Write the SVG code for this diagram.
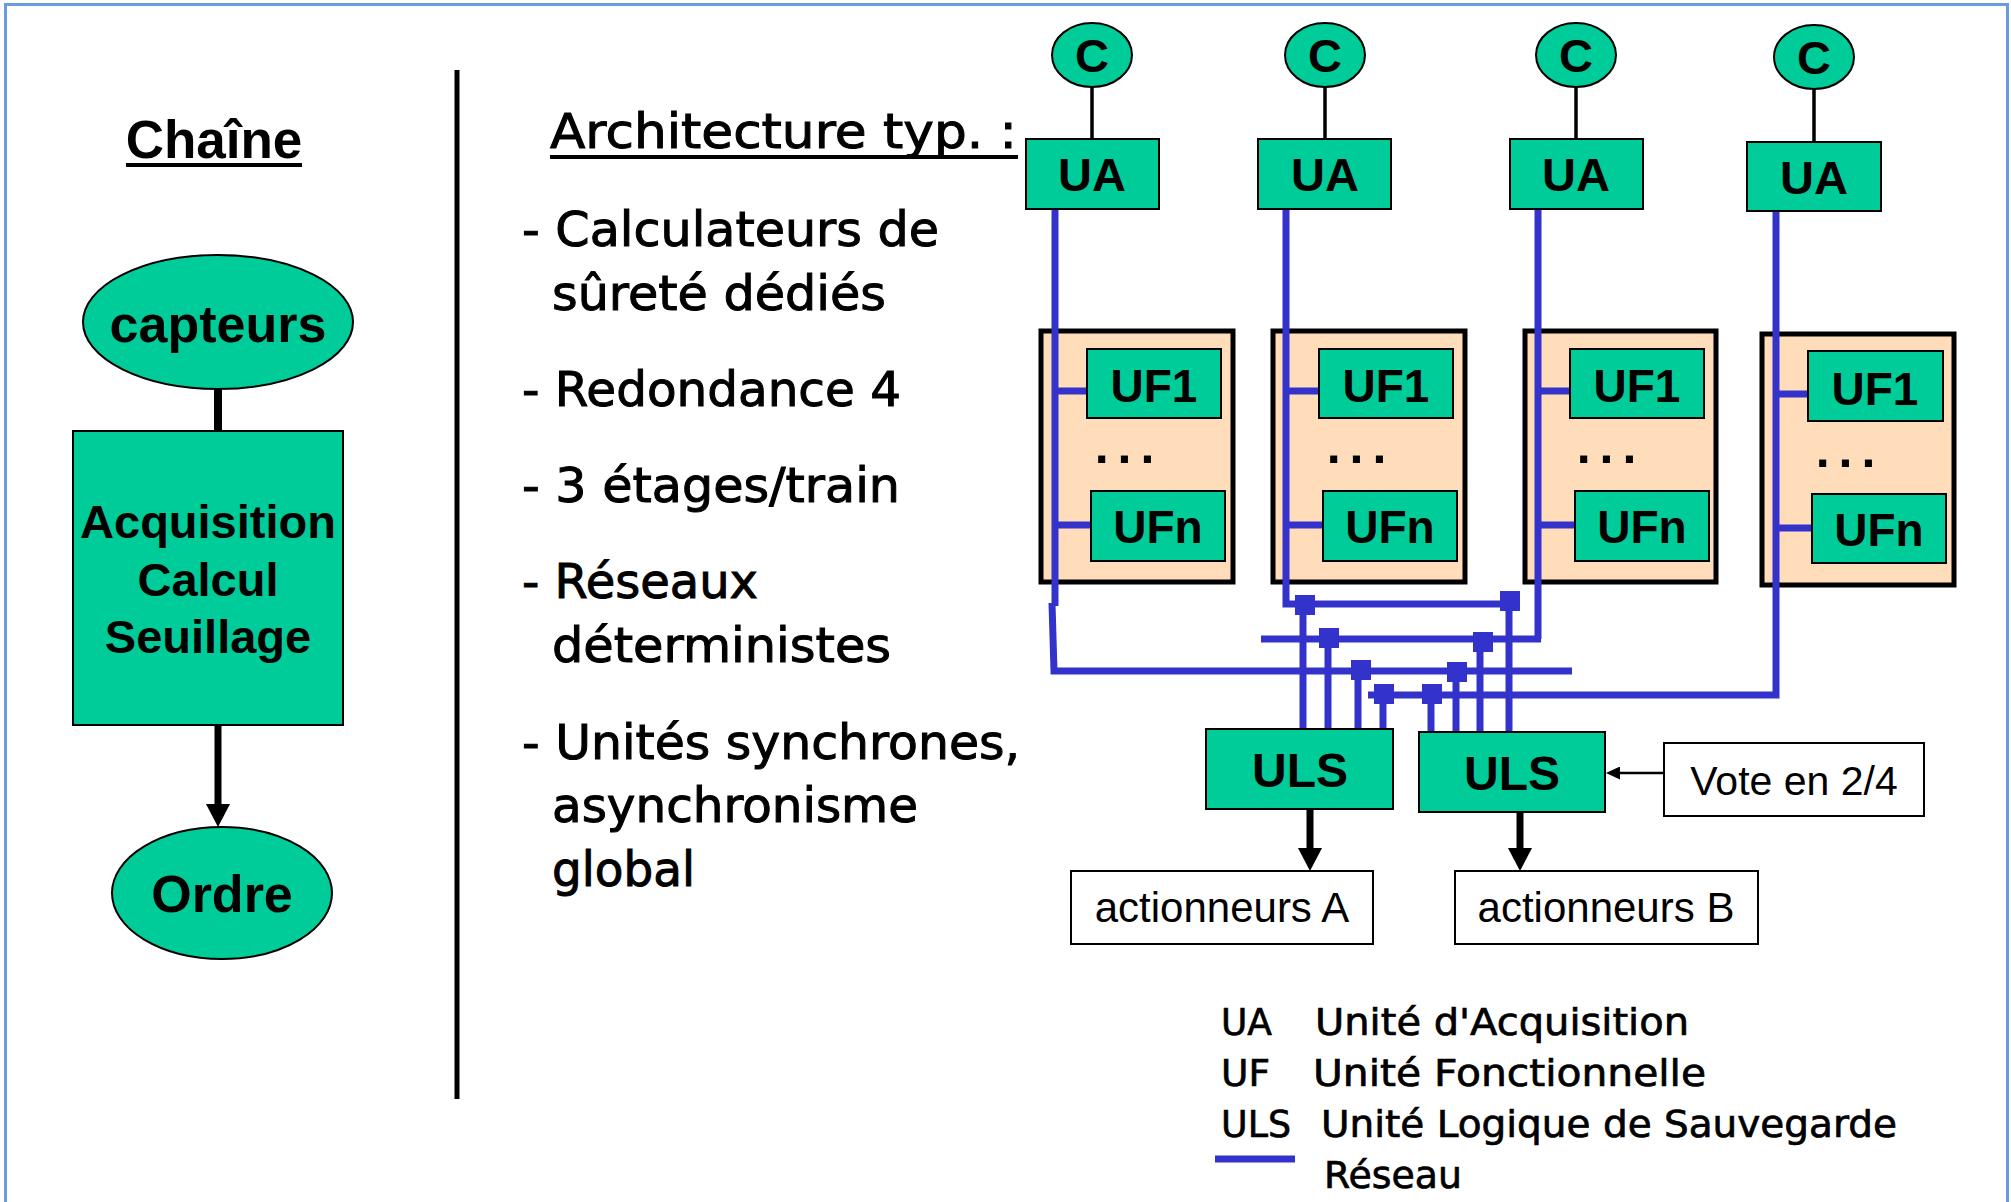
<svg xmlns="http://www.w3.org/2000/svg" width="2011" height="1202" viewBox="0 0 2011 1202">
<defs>
<style>
.bt{font-family:"Liberation Sans",Arial,sans-serif;font-weight:bold;fill:#000;text-anchor:middle}
.lt{font-family:"DejaVu Sans","Liberation Sans",sans-serif;fill:#000;stroke:#000;stroke-width:1}
.lg{font-family:"DejaVu Sans","Liberation Sans",sans-serif;fill:#000;stroke:#000;stroke-width:0.7}
.rt{font-family:"Liberation Sans",Arial,sans-serif;fill:#000;text-anchor:middle}
.g{fill:#00CC99;stroke:#000;stroke-width:2}
.peach{fill:#FFDDBB;stroke:#000;stroke-width:5}
.wb{fill:#fff;stroke:#000;stroke-width:2}
.net{fill:none;stroke:#3333CC;stroke-width:7}
.sq{fill:#3333CC}
.blk{stroke:#000;fill:none}
</style>
<marker id="ah" markerUnits="userSpaceOnUse" markerWidth="23" markerHeight="24" refX="3" refY="12" orient="auto" viewBox="0 0 23 24">
<path d="M0,0 L23,12 L0,24 z" fill="#000"/>
</marker>
<marker id="ahs" markerUnits="userSpaceOnUse" markerWidth="14" markerHeight="13" refX="2" refY="6.5" orient="auto" viewBox="0 0 14 13">
<path d="M0,0 L14,6.5 L0,13 z" fill="#000"/>
</marker>
</defs>
<rect x="0" y="0" width="2011" height="1202" fill="#fff"/>
<rect x="5.5" y="4.5" width="2002" height="1230" fill="none" stroke="#6A9BE0" stroke-width="3"/>

<!-- left chain -->
<g id="title-chaine">
<text class="bt" x="214" y="158" font-size="53">Chaîne</text>
<line x1="126" y1="165" x2="302" y2="165" stroke="#000" stroke-width="4"/>
</g>
<line x1="457" y1="70" x2="457" y2="1099" stroke="#000" stroke-width="5"/>

<g id="capteurs">
<ellipse class="g" cx="218" cy="322" rx="135" ry="67"/>
<text class="bt" x="218" y="342" font-size="52">capteurs</text>
</g>
<g id="acquisition">
<rect class="g" x="73" y="431" width="270" height="294"/>
<text class="bt" x="208" y="538" font-size="47">Acquisition</text>
<text class="bt" x="208" y="596" font-size="47">Calcul</text>
<text class="bt" x="208" y="653" font-size="47">Seuillage</text>
</g>
<g id="ordre">
<ellipse class="g" cx="222" cy="893" rx="110" ry="66"/>
<text class="bt" x="222" y="912" font-size="52">Ordre</text>
</g>

<!-- text list -->
<g id="architecture-text">
<text class="lt" x="550" y="148" font-size="48" textLength="467" lengthAdjust="spacingAndGlyphs">Architecture typ. :</text>
<line x1="550" y1="157" x2="1018" y2="157" stroke="#000" stroke-width="4"/>
<text class="lt" x="522" y="246" font-size="48" textLength="417" lengthAdjust="spacingAndGlyphs">- Calculateurs de</text>
<text class="lt" x="552" y="310" font-size="48" textLength="334" lengthAdjust="spacingAndGlyphs">sûreté dédiés</text>
<text class="lt" x="522" y="406" font-size="48" textLength="379" lengthAdjust="spacingAndGlyphs">- Redondance 4</text>
<text class="lt" x="522" y="502" font-size="48" textLength="378" lengthAdjust="spacingAndGlyphs">- 3 étages/train</text>
<text class="lt" x="522" y="598" font-size="48" textLength="236" lengthAdjust="spacingAndGlyphs">- Réseaux</text>
<text class="lt" x="552" y="662" font-size="48" textLength="339" lengthAdjust="spacingAndGlyphs">déterministes</text>
<text class="lt" x="522" y="759" font-size="48" textLength="498" lengthAdjust="spacingAndGlyphs">- Unités synchrones,</text>
<text class="lt" x="552" y="822" font-size="48" textLength="366" lengthAdjust="spacingAndGlyphs">asynchronisme</text>
<text class="lt" x="552" y="886" font-size="48" textLength="143" lengthAdjust="spacingAndGlyphs">global</text>
</g>

<!-- peach containers -->
<g id="train1-box"><rect class="peach" x="1041" y="331" width="192" height="251"/></g>
<g id="train2-box"><rect class="peach" x="1273" y="331" width="192" height="251"/></g>
<g id="train3-box"><rect class="peach" x="1525" y="331" width="191" height="251"/></g>
<g id="train4-box"><rect class="peach" x="1762" y="334" width="192" height="251"/></g>

<!-- connectors -->
<g id="connectors">
<line class="blk" x1="1092" y1="87" x2="1092" y2="139" stroke-width="3.5"/>
<line class="blk" x1="1325" y1="87" x2="1325" y2="139" stroke-width="3.5"/>
<line class="blk" x1="1576" y1="87" x2="1576" y2="139" stroke-width="3.5"/>
<line class="blk" x1="1814" y1="89" x2="1814" y2="142" stroke-width="3.5"/>

<path class="net" d="M1055,209 V606 M1052,603 L1054,671 H1572"/>
<path class="net" d="M1286,209 V604 H1520"/>
<path class="net" d="M1538,209 V639 M1541,639 H1261"/>
<path class="net" d="M1776,211 V695 H1368"/>

<path class="net" d="M1055,391 H1088 M1055,525 H1092 M1286,391 H1320 M1286,525 H1324 M1538,391 H1571 M1538,525 H1576 M1776,394 H1809 M1776,528 H1813"/>

<path class="net" d="M1303,605 V730 M1328,638 V730 M1358,670 V730 M1383,694 V730 M1431,694 V733 M1456,672 V733 M1480,642 V733 M1509,601 V733"/>
<rect class="sq" x="1295" y="595" width="20" height="20"/>
<rect class="sq" x="1319" y="628" width="20" height="20"/>
<rect class="sq" x="1351" y="660" width="20" height="20"/>
<rect class="sq" x="1374" y="684" width="20" height="20"/>
<rect class="sq" x="1422" y="684" width="20" height="20"/>
<rect class="sq" x="1447" y="662" width="20" height="20"/>
<rect class="sq" x="1473" y="632" width="20" height="20"/>
<rect class="sq" x="1500" y="591" width="20" height="20"/>

<line class="blk" x1="218" y1="389" x2="218" y2="431" stroke-width="8"/>
<line class="blk" x1="218" y1="725" x2="218" y2="807" stroke-width="7" marker-end="url(#ah)"/>
<line class="blk" x1="1310" y1="809" x2="1310" y2="851" stroke-width="7" marker-end="url(#ah)"/>
<line class="blk" x1="1520" y1="812" x2="1520" y2="851" stroke-width="7" marker-end="url(#ah)"/>
<line class="blk" x1="1664" y1="773" x2="1618" y2="773" stroke-width="2.5" marker-end="url(#ahs)"/>
</g>

<!-- C nodes -->
<g id="c1"><ellipse class="g" cx="1092" cy="55" rx="40" ry="32"/><text class="bt" x="1092" y="72" font-size="47">C</text></g>
<g id="c2"><ellipse class="g" cx="1325" cy="55" rx="40" ry="32"/><text class="bt" x="1325" y="72" font-size="47">C</text></g>
<g id="c3"><ellipse class="g" cx="1576" cy="55" rx="40" ry="32"/><text class="bt" x="1576" y="72" font-size="47">C</text></g>
<g id="c4"><ellipse class="g" cx="1814" cy="57" rx="40" ry="32"/><text class="bt" x="1814" y="74" font-size="47">C</text></g>

<!-- UA nodes -->
<g id="ua1"><rect class="g" x="1026" y="139" width="133" height="70"/><text class="bt" x="1092" y="191" font-size="47">UA</text></g>
<g id="ua2"><rect class="g" x="1258" y="139" width="133" height="70"/><text class="bt" x="1325" y="191" font-size="47">UA</text></g>
<g id="ua3"><rect class="g" x="1510" y="139" width="133" height="70"/><text class="bt" x="1576" y="191" font-size="47">UA</text></g>
<g id="ua4"><rect class="g" x="1747" y="142" width="134" height="69"/><text class="bt" x="1814" y="194" font-size="47">UA</text></g>

<!-- UF nodes -->
<g id="uf1-1"><rect class="g" x="1087" y="349" width="134" height="69"/><text class="bt" x="1154" y="402" font-size="46">UF1</text></g>
<g id="ufn-1"><rect class="g" x="1091" y="491" width="134" height="70"/><text class="bt" x="1158" y="543" font-size="46">UFn</text></g>
<text class="bt" x="1129" y="463" font-size="50" letter-spacing="9">...</text>

<g id="uf1-2"><rect class="g" x="1319" y="349" width="134" height="69"/><text class="bt" x="1386" y="402" font-size="46">UF1</text></g>
<g id="ufn-2"><rect class="g" x="1323" y="491" width="134" height="70"/><text class="bt" x="1390" y="543" font-size="46">UFn</text></g>
<text class="bt" x="1361" y="463" font-size="50" letter-spacing="9">...</text>

<g id="uf1-3"><rect class="g" x="1570" y="349" width="134" height="69"/><text class="bt" x="1637" y="402" font-size="46">UF1</text></g>
<g id="ufn-3"><rect class="g" x="1575" y="491" width="134" height="70"/><text class="bt" x="1642" y="543" font-size="46">UFn</text></g>
<text class="bt" x="1611" y="463" font-size="50" letter-spacing="9">...</text>

<g id="uf1-4"><rect class="g" x="1808" y="351" width="135" height="70"/><text class="bt" x="1875" y="405" font-size="46">UF1</text></g>
<g id="ufn-4"><rect class="g" x="1812" y="494" width="134" height="69"/><text class="bt" x="1879" y="546" font-size="46">UFn</text></g>
<text class="bt" x="1850" y="467" font-size="50" letter-spacing="9">...</text>

<!-- ULS -->
<g id="uls-a"><rect class="g" x="1206" y="729" width="187" height="80"/><text class="bt" x="1300" y="787" font-size="48">ULS</text></g>
<g id="uls-b"><rect class="g" x="1419" y="732" width="186" height="80"/><text class="bt" x="1512" y="790" font-size="48">ULS</text></g>

<g id="vote"><rect class="wb" x="1664" y="743" width="260" height="73"/><text class="rt" x="1794" y="795" font-size="41">Vote en 2/4</text></g>
<g id="act-a"><rect class="wb" x="1071" y="871" width="302" height="73"/><text class="rt" x="1222" y="922" font-size="42">actionneurs A</text></g>
<g id="act-b"><rect class="wb" x="1455" y="871" width="303" height="73"/><text class="rt" x="1606" y="922" font-size="42">actionneurs B</text></g>

<!-- legend -->
<g id="legend">
<text class="lg" x="1221" y="1035" font-size="38" textLength="51" lengthAdjust="spacingAndGlyphs">UA</text>
<text class="lg" x="1315" y="1035" font-size="38" textLength="374" lengthAdjust="spacingAndGlyphs">Unité d'Acquisition</text>
<text class="lg" x="1221" y="1086" font-size="38" textLength="49" lengthAdjust="spacingAndGlyphs">UF</text>
<text class="lg" x="1313" y="1086" font-size="38" textLength="393" lengthAdjust="spacingAndGlyphs">Unité Fonctionnelle</text>
<text class="lg" x="1221" y="1137" font-size="38" textLength="70" lengthAdjust="spacingAndGlyphs">ULS</text>
<text class="lg" x="1321" y="1137" font-size="38" textLength="576" lengthAdjust="spacingAndGlyphs">Unité Logique de Sauvegarde</text>
<line x1="1215" y1="1159" x2="1295" y2="1159" stroke="#3333CC" stroke-width="7"/>
<text class="lg" x="1324" y="1188" font-size="38" textLength="138" lengthAdjust="spacingAndGlyphs">Réseau</text>
</g>
</svg>
